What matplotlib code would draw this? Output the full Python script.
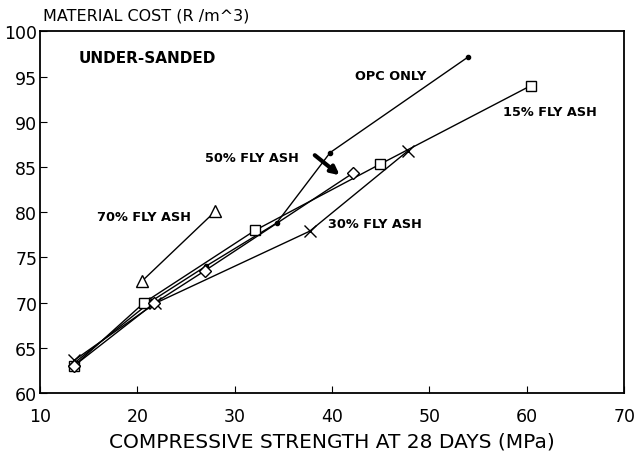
import matplotlib.pyplot as plt

# readings (MPa, R/m^3)
opc_x = [13.5, 21.5, 27.0, 34.3, 39.8, 54.0]
opc_y = [63.3, 70.2, 74.0, 78.8, 86.6, 97.2]
fa15_x = [13.5, 20.7, 32.1, 44.9, 60.4]
fa15_y = [63.0, 70.0, 78.0, 85.3, 94.0]
fa30_x = [13.5, 21.8, 37.7, 47.8]
fa30_y = [63.6, 69.9, 77.9, 86.8]
fa50_x = [13.5, 21.7, 26.9, 42.1]
fa50_y = [63.0, 69.9, 73.5, 84.3]
fa70_x = [20.5, 28.0]
fa70_y = [72.4, 80.1]

xticks = [10, 20, 30, 40, 50, 60, 70]
yticks = [60, 65, 70, 75, 80, 85, 90, 95, 100]

plt.rcParams['font.family'] = ['DejaVu Sans']
fig = plt.figure(figsize=(6.35, 4.64), dpi=100)
ax = fig.add_axes([0.063, 0.151, 0.920, 0.779])

lw = 1.0
ax.plot(opc_x, opc_y, color='black', lw=lw, marker='o', ms=3)
ax.plot(fa15_x, fa15_y, color='black', lw=lw, marker='s', ms=7, mfc='white', mew=1)
ax.plot(fa30_x, fa30_y, color='black', lw=lw, marker='x', ms=8, mew=1)
ax.plot(fa50_x, fa50_y, color='black', lw=lw, marker='D', ms=6, mfc='white', mew=1)
ax.plot(fa70_x, fa70_y, color='black', lw=lw, marker='^', ms=8, mfc='white', mew=1)

ax.set_xlim(10, 70)
ax.set_ylim(60, 100)
ax.set_xticks(xticks)
ax.set_yticks(yticks)
ax.tick_params(direction='in', length=5, labelsize=12.5)
ax.tick_params(axis='x', pad=10)
ax.tick_params(axis='y', pad=2)
for s in ax.spines.values():
    s.set_linewidth(1.3)

ax.set_xlabel('COMPRESSIVE STRENGTH AT 28 DAYS (MPa)', fontsize=14.5, labelpad=5)
fig.text(0.068, 0.965, 'MATERIAL COST (R /m^3)', fontsize=11.5, ha='left', va='center')

bold = dict(fontsize=9.3, fontweight='bold', ha='left', va='center')
ax.text(14.0, 97.1, 'UNDER-SANDED', fontsize=11, fontweight='bold', ha='left', va='center')
ax.text(42.4, 95.1, 'OPC ONLY', **bold)
ax.text(57.6, 91.2, '15% FLY ASH', **bold)
ax.text(26.9, 86.0, '50% FLY ASH', **bold)
ax.text(15.9, 79.5, '70% FLY ASH', **bold)
ax.text(29.6 + 10, 78.7, '30% FLY ASH', **bold)
ax.annotate('', xy=(41.0, 83.9), xytext=(38.0, 86.5),
            arrowprops=dict(arrowstyle='-|>', color='black', lw=3, mutation_scale=12))

fig.savefig('out.png', dpi=100)
